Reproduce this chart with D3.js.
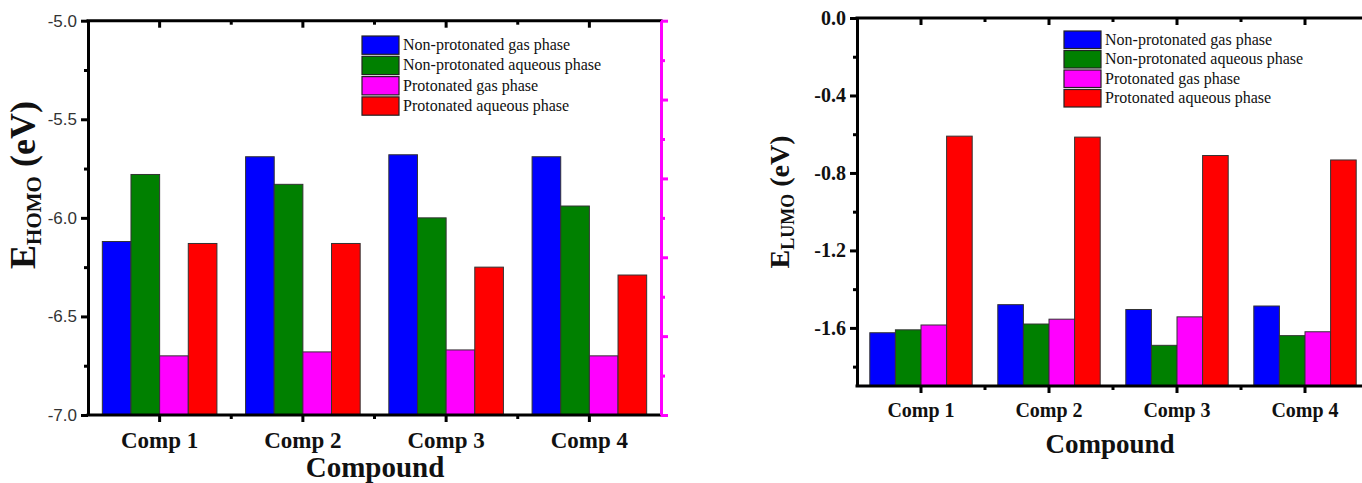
<!DOCTYPE html>
<html>
<head>
<meta charset="utf-8">
<script src="https://cdn.jsdelivr.net/npm/d3@7"></script>
<style>
  body { margin: 0; background: #fff; }
  svg { display: block; }
</style>
</head>
<body>
<svg id="chart" width="1362" height="483"></svg>
<script>
const compounds = ['Comp 1', 'Comp 2', 'Comp 3', 'Comp 4'];
const seriesNames = [
    'Non-protonated gas phase',
    'Non-protonated aqueous phase',
    'Protonated gas phase',
    'Protonated aqueous phase'
];
const seriesColors = ['#0000ff', '#008000', '#ff00ff', '#ff0000'];

// E_HOMO (eV), one array per series, in compound order
const homoNonProtGas = [-6.12, -5.69, -5.68, -5.69];
const homoNonProtAq = [-5.78, -5.83, -6.00, -5.94];
const homoProtGas = [-6.70, -6.68, -6.67, -6.70];
const homoProtAq = [-6.13, -6.13, -6.25, -6.29];

// E_LUMO (eV)
const lumoNonProtGas = [-1.625, -1.48, -1.505, -1.487];
const lumoNonProtAq = [-1.61, -1.58, -1.69, -1.64];
const lumoProtGas = [-1.585, -1.555, -1.543, -1.62];
const lumoProtAq = [-0.61, -0.615, -0.71, -0.733];

const homoTicks = [-5.0, -5.5, -6.0, -6.5, -7.0];
const homoMinorTicks = [-5.25, -5.75, -6.25, -6.75];
const homoRightTicks = [-5.0, -5.4, -5.8, -6.2, -6.6, -7.0];
const homoRightMinor = [-5.2, -5.6, -6.0, -6.4, -6.8];
const lumoTicks = [0.0, -0.4, -0.8, -1.2, -1.6];
const lumoMinorTicks = [-0.2, -0.6, -1.0, -1.4, -1.8];

const SERIF = "'Liberation Serif', 'Times New Roman', serif";
const SANS = "'Liberation Sans', Arial, sans-serif";

const svg = d3.select('#chart');

function drawChart(cfg) {
    const g = svg.append('g');
    const series = cfg.series;

    const x = d3.scaleBand()
        .domain(compounds)
        .range([cfg.left, cfg.right])
        .paddingInner(0.2)
        .paddingOuter(0.1);
    const x1 = d3.scaleBand()
        .domain(d3.range(series.length))
        .range([0, x.bandwidth()]);
    const y = d3.scaleLinear()
        .domain(cfg.yDomain)
        .range([cfg.bottom, cfg.top]);

    // bars
    compounds.forEach((c, ci) => {
        g.selectAll(null)
            .data(series)
            .enter()
            .append('rect')
            .attr('x', (d, si) => x(c) + x1(si))
            .attr('width', x1.bandwidth())
            .attr('y', (d) => y(d[ci]))
            .attr('height', (d) => y(cfg.yDomain[0]) - y(d[ci]))
            .attr('fill', (d, si) => seriesColors[si])
            .attr('stroke', '#333')
            .attr('stroke-width', 1);
    });

    // category boundaries for minor ticks on x axes
    const bounds = compounds.slice(1).map((c) => x(c) - x.step() * x.paddingInner() / 2);

    function styleAxis(sel, color, width) {
        sel.select('.domain').attr('stroke', color).attr('stroke-width', width);
        sel.selectAll('.tick line').attr('stroke', color).attr('stroke-width', width);
    }

    // left axis
    const leftAx = g.append('g')
        .attr('transform', `translate(${cfg.left},0)`)
        .call(d3.axisLeft(y).tickValues(cfg.ticks).tickFormat((d) => d.toFixed(1))
            .tickSize(7).tickSizeOuter(0).tickPadding(4));
    styleAxis(leftAx, '#000', 3);
    leftAx.selectAll('.tick text')
        .style('font-family', cfg.tickFont)
        .style('font-weight', cfg.tickWeight)
        .style('font-size', cfg.tickSize + 'px')
        .attr('fill', cfg.tickColor);
    const leftMinor = g.append('g')
        .attr('transform', `translate(${cfg.left},0)`)
        .call(d3.axisLeft(y).tickValues(cfg.minorTicks).tickFormat('').tickSize(4).tickSizeOuter(0));
    leftMinor.select('.domain').remove();
    leftMinor.selectAll('.tick line').attr('stroke', '#000').attr('stroke-width', 3);

    // bottom axis
    const bottomAx = g.append('g')
        .attr('transform', `translate(0,${cfg.bottom})`)
        .call(d3.axisBottom(x).tickSize(7).tickSizeOuter(0).tickPadding(10));
    styleAxis(bottomAx, '#000', 3);
    bottomAx.select('.domain').attr('d', `M${cfg.left - 1.5},0H${cfg.right + 1.5}`);
    bottomAx.selectAll('.tick text')
        .style('font-family', SERIF)
        .style('font-weight', 'bold')
        .style('font-size', cfg.catSize + 'px')
        .attr('fill', '#111')
        .attr('dy', null)
        .attr('y', cfg.catBaseline - cfg.bottom);
    g.append('g').selectAll('line')
        .data(bounds)
        .enter()
        .append('line')
        .attr('x1', (d) => d).attr('x2', (d) => d)
        .attr('y1', cfg.bottom).attr('y2', cfg.bottom + 4)
        .attr('stroke', '#000').attr('stroke-width', 3);

    // top axis (ticks inward)
    const topAx = g.append('g')
        .attr('transform', `translate(0,${cfg.top})`)
        .call(d3.axisBottom(x).tickSize(7).tickSizeOuter(0).tickFormat(''));
    styleAxis(topAx, '#000', 3);
    topAx.select('.domain').attr('d', `M${cfg.left - 1.5},0H${cfg.right + 1.5}`);
    g.append('g').selectAll('line')
        .data(bounds)
        .enter()
        .append('line')
        .attr('x1', (d) => d).attr('x2', (d) => d)
        .attr('y1', cfg.top).attr('y2', cfg.top + 4)
        .attr('stroke', '#000').attr('stroke-width', 3);

    // right axis
    if (cfg.rightTicks) {
        const rightAx = g.append('g')
            .attr('transform', `translate(${cfg.right},0)`)
            .call(d3.axisRight(y).tickValues(cfg.rightTicks).tickFormat('').tickSize(7).tickSizeOuter(0));
        styleAxis(rightAx, cfg.rightColor, 3);
        const rightMinor = g.append('g')
            .attr('transform', `translate(${cfg.right},0)`)
            .call(d3.axisRight(y).tickValues(cfg.rightMinor).tickFormat('').tickSize(4).tickSizeOuter(0));
        rightMinor.select('.domain').remove();
        rightMinor.selectAll('.tick line').attr('stroke', cfg.rightColor).attr('stroke-width', 3);
    }

    // x title
    g.append('text')
        .attr('x', cfg.xTitleX)
        .attr('y', cfg.xTitleY)
        .attr('text-anchor', 'middle')
        .style('font-family', SERIF)
        .style('font-weight', 'bold')
        .style('font-size', cfg.xTitleSize + 'px')
        .attr('fill', '#111')
        .text('Compound');

    // y title with subscript
    const yt = g.append('text')
        .attr('transform', `translate(${cfg.yTitleX},${cfg.yTitleY}) rotate(-90)`)
        .attr('text-anchor', 'middle')
        .style('font-family', SERIF)
        .style('font-weight', 'bold')
        .style('font-size', cfg.yTitleSize + 'px')
        .attr('fill', '#111');
    yt.append('tspan').text('E');
    yt.append('tspan').style('font-size', cfg.ySubSize + 'px').attr('dy', cfg.ySubSize * 0.3).text(cfg.ySub);
    yt.append('tspan').attr('dy', -cfg.ySubSize * 0.3).text(cfg.ySuffix);

    // legend
    const leg = g.append('g');
    seriesNames.forEach((name, i) => {
        const ry = cfg.legY + i * cfg.legStep;
        leg.append('rect')
            .attr('x', cfg.legX).attr('y', ry)
            .attr('width', 37).attr('height', cfg.legStep - 2)
            .attr('fill', seriesColors[i])
            .attr('stroke', '#222').attr('stroke-width', 1.2);
        leg.append('text')
            .attr('x', cfg.legX + 41)
            .attr('y', ry + cfg.legStep / 2 + 4)
            .style('font-family', SERIF)
            .style('font-size', '16px')
            .attr('fill', '#111')
            .text(name);
    });
}

drawChart({
    series: [homoNonProtGas, homoNonProtAq, homoProtGas, homoProtAq],
    left: 88, right: 661, top: 20.7, bottom: 415,
    yDomain: [-7.0, -5.0],
    ticks: homoTicks, minorTicks: homoMinorTicks,
    rightTicks: homoRightTicks, rightMinor: homoRightMinor, rightColor: '#ff00ff',
    tickFont: SANS, tickWeight: 'normal', tickSize: 17, tickColor: '#333',
    catSize: 23, catBaseline: 448,
    xTitleX: 375, xTitleY: 477, xTitleSize: 29,
    yTitleX: 35, yTitleY: 185, yTitleSize: 36, ySubSize: 21, ySub: 'HOMO', ySuffix: ' (eV)',
    legX: 362, legY: 36, legStep: 20.3
});

drawChart({
    series: [lumoNonProtGas, lumoNonProtAq, lumoProtGas, lumoProtAq],
    left: 857, right: 1369, top: 18, bottom: 386,
    yDomain: [-1.9, 0.0],
    ticks: lumoTicks, minorTicks: lumoMinorTicks,
    tickFont: SERIF, tickWeight: 'bold', tickSize: 20, tickColor: '#111',
    catSize: 20, catBaseline: 417,
    xTitleX: 1110, xTitleY: 453, xTitleSize: 27,
    yTitleX: 789, yTitleY: 202, yTitleSize: 28, ySubSize: 18, ySub: 'LUMO', ySuffix: ' (eV)',
    legX: 1064, legY: 31, legStep: 19.5
});
</script>
</body>
</html>
